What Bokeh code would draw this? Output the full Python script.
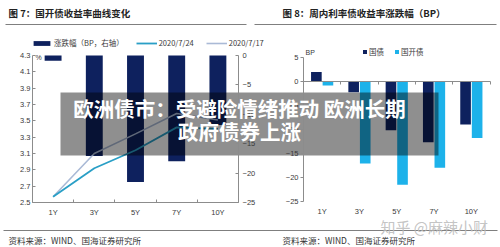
from bokeh.plotting import figure
from bokeh.models import (Range1d, LinearAxis, FixedTicker, Legend, LegendItem, Label,
                          ColumnDataSource, PrintfTickFormatter)
from bokeh.transform import dodge
from bokeh.embed import file_html
from bokeh.resources import INLINE

# ---------------- data ----------------
categories = ["1Y", "3Y", "5Y", "7Y", "10Y"]
# Fig 7: CDB yield curve (left axis, %) and weekly change (right axis, BP)
cdb_change_bp = [-0.9, -17.1, -21.5, -18.0, -11.8]
yield_0724 = [2.57, 2.92, 3.14, 3.42, 3.40]
yield_0717 = [2.57, 3.10, 3.34, 3.59, 3.51]
pct_ticks = [2.5, 2.7, 2.9, 3.1, 3.3, 3.5, 3.7, 3.9, 4.1, 4.3]
bp_ticks_left = [0, -5, -10, -15, -20, -25]
# Fig 8: weekly change of treasury / CDB yields (BP)
gov_change_bp = [1.9, -2.3, -10.2, -12.7, -9.0]
cdb_change_bp_r = [-0.9, -17.1, -21.5, -18.0, -11.8]
bp_ticks_right = [5, 0, -5, -10, -15, -20, -25]

title_left = "图 7：国开债收益率曲线变化"
title_right = "图 8：周内利率债收益率涨跌幅（BP）"
source_text = "资料来源：WIND、国海证券研究所"
banner_l1 = "欧洲债市：受避险情绪推动 欧洲长期"
banner_l2 = "政府债券上涨"
watermark = "知乎 @麻辣小财"

# ---------------- styles ----------------
NAVY = "#0E215E"
CYAN = "#1DB2EA"
TEAL = "#2A9FC6"
LIGHT = "#AABAD6"
AX = "#8C8C8C"
TXT = "#3A3A3A"
CJK = "Noto Sans CJK SC"
LAT = "Liberation Sans"

W, H = 500, 247

def xr(px0, px1, v0, v1):
    k = (v1 - v0) / (px1 - px0)
    return Range1d(start=v0 - px0 * k, end=v0 + (W - px0) * k)

def yr(py0, py1, v0, v1):
    k = (v1 - v0) / (py1 - py0)
    return Range1d(start=v0 + (H - py0) * k, end=v0 + (0 - py0) * k)

p = figure(width=W, height=H, x_range=Range1d(0, W), y_range=Range1d(H, 0),
           x_axis_type=None, y_axis_type=None, output_backend="svg",
           toolbar_location=None, min_border=0, outline_line_color=None)
p.background_fill_color = "white"
p.border_fill_color = "white"

n = len(categories)
idx = list(range(n))
bounds_cat = [i - 0.5 for i in range(n + 1)]

p.extra_x_ranges = {"lx": xr(32, 238, -0.5, n - 0.5), "rx": xr(303, 489.5, -0.5, n - 0.5)}
p.extra_y_ranges = {"lpct": yr(202, 55, 2.5, 4.3), "lbp": yr(55, 202, 0, -25),
                    "rbp": yr(56.7, 201, 5, -25)}

# ---------------- left chart ----------------
src_l = ColumnDataSource(dict(x=idx, chg=cdb_change_bp, y24=yield_0724, y17=yield_0717))
r_bar = p.vbar(x="x", width=0.41, top=0, bottom="chg", source=src_l, fill_color=NAVY,
               line_color=None, x_range_name="lx", y_range_name="lbp")
r17 = p.line("x", "y17", source=src_l, line_color=LIGHT, line_width=1.6,
             x_range_name="lx", y_range_name="lpct")
r24 = p.line("x", "y24", source=src_l, line_color=TEAL, line_width=1.8,
             x_range_name="lx", y_range_name="lpct")

def style_axis(ax, size="7.5px", font=LAT):
    ax.axis_line_color = AX
    ax.major_tick_line_color = AX
    ax.minor_tick_line_color = AX
    ax.major_label_text_font = font
    ax.major_label_text_font_size = size
    ax.major_label_text_color = TXT
    ax.minor_tick_in = 0
    ax.minor_tick_out = 0

ax1 = LinearAxis(x_range_name="lx", y_range_name="lpct", fixed_location=-0.5,
                 bounds=(2.5, 4.3), ticker=FixedTicker(ticks=pct_ticks),
                 formatter=PrintfTickFormatter(format="%.1f"))
style_axis(ax1)
ax1.major_tick_in = 3
ax1.major_tick_out = 0
ax1.major_label_standoff = 2
p.add_layout(ax1, "left")

ax2 = LinearAxis(x_range_name="lx", y_range_name="lbp", fixed_location=n - 0.5,
                 bounds=(-25, 0), ticker=FixedTicker(ticks=bp_ticks_left))
style_axis(ax2)
ax2.major_tick_in = 3
ax2.major_tick_out = 0
ax2.major_label_standoff = 4
p.add_layout(ax2, "right")

ax3 = LinearAxis(x_range_name="lx", y_range_name="lpct", fixed_location=2.5,
                 bounds=(-0.5, n - 0.5),
                 ticker=FixedTicker(ticks=idx, minor_ticks=bounds_cat),
                 major_label_overrides={i: c for i, c in enumerate(categories)})
style_axis(ax3)
ax3.major_tick_in = 0
ax3.major_tick_out = 0
ax3.minor_tick_in = 3
ax3.major_label_standoff = 5
p.add_layout(ax3, "below")

# ---------------- right chart ----------------
src_r = ColumnDataSource(dict(x=idx, gov=gov_change_bp, cdb=cdb_change_bp_r))
r_gov = p.vbar(x=dodge("x", -0.155), width=0.285, top=0, bottom="gov", source=src_r,
               fill_color=NAVY, line_color=None, x_range_name="rx", y_range_name="rbp")
r_cdb = p.vbar(x=dodge("x", 0.155), width=0.285, top=0, bottom="cdb", source=src_r,
               fill_color=CYAN, line_color=None, x_range_name="rx", y_range_name="rbp")

ax4 = LinearAxis(x_range_name="rx", y_range_name="rbp", fixed_location=-0.5,
                 bounds=(-25, 5), ticker=FixedTicker(ticks=bp_ticks_right))
style_axis(ax4)
ax4.major_tick_in = 0
ax4.major_tick_out = 3
ax4.major_label_standoff = 2
p.add_layout(ax4, "left")

ax5 = LinearAxis(x_range_name="rx", y_range_name="rbp", fixed_location=0,
                 bounds=(-0.5, n - 0.5),
                 ticker=FixedTicker(ticks=[], minor_ticks=bounds_cat))
style_axis(ax5)
ax5.major_tick_in = 0
ax5.major_tick_out = 0
ax5.minor_tick_out = 3
p.add_layout(ax5, "below")

ax6 = LinearAxis(x_range_name="rx", y_range_name="rbp", fixed_location=-25,
                 ticker=FixedTicker(ticks=idx),
                 major_label_overrides={i: c for i, c in enumerate(categories)})
style_axis(ax6)
ax6.axis_line_color = None
ax6.major_tick_line_color = None
ax6.major_tick_in = 0
ax6.major_tick_out = 0
ax6.major_label_standoff = 5
p.add_layout(ax6, "below")

# ---------------- legends ----------------
leg1 = Legend(items=[LegendItem(label="涨跌幅（BP，右轴）", renderers=[r_bar]),
                     LegendItem(label="2020/7/24", renderers=[r24]),
                     LegendItem(label="2020/7/17", renderers=[r17])],
              orientation="horizontal", location=(31, H - 48), padding=0, margin=0,
              spacing=12, glyph_width=21, glyph_height=6, label_height=8,
              label_standoff=2, border_line_color=None, background_fill_alpha=0,
              label_text_font=CJK, label_text_font_size="7.5px", label_text_color=TXT)
p.add_layout(leg1)

leg2 = Legend(items=[LegendItem(label="国债", renderers=[r_gov]),
                     LegendItem(label="国开债", renderers=[r_cdb])],
              orientation="horizontal", location=(362, H - 56.5), padding=0, margin=0,
              spacing=5, glyph_width=5, glyph_height=5, label_height=8,
              label_standoff=2, border_line_color=None, background_fill_alpha=0,
              label_text_font=CJK, label_text_font_size="7.5px", label_text_color=TXT)
p.add_layout(leg2)

# ---------------- decorations ----------------
p.segment(x0=[5, 254, 3], y0=[24, 24, 230], x1=[246, 496, 497], y1=[24, 24, 230],
          line_color="#7F7F7F", line_width=1)

def lab(x, y, text, size, color=TXT, font=CJK, style="normal", align="left", alpha=1.0):
    p.add_layout(Label(x=x, y=y, text=text, text_font=font, text_font_size=size,
                       text_font_style=style, text_color=color, text_align=align,
                       text_baseline="middle", text_alpha=alpha))

lab(8, 12, title_left, "9.5px", color="#222222", style="bold")
lab(282, 12, title_right, "9.5px", color="#222222", style="bold")
lab(35, 57, "%", "7px", font=LAT)
lab(305, 52, "BP", "7px", font=LAT)
lab(8, 239, source_text, "8.5px", color="#333333")
lab(282, 239, source_text, "8.5px", color="#333333")

# banner overlay
p.quad(left=[60], right=[438], top=[92], bottom=[155], fill_color="black",
       fill_alpha=0.44, line_color=None)
lab(239, 107.5, banner_l1, "20.5px", color="white", style="bold", align="center")
lab(239, 130.5, banner_l2, "20.5px", color="white", style="bold", align="center")

lab(380, 226, watermark, "15px", color="#BDBDBD", alpha=0.9)

open("out.html", "w").write(file_html(p, INLINE))
